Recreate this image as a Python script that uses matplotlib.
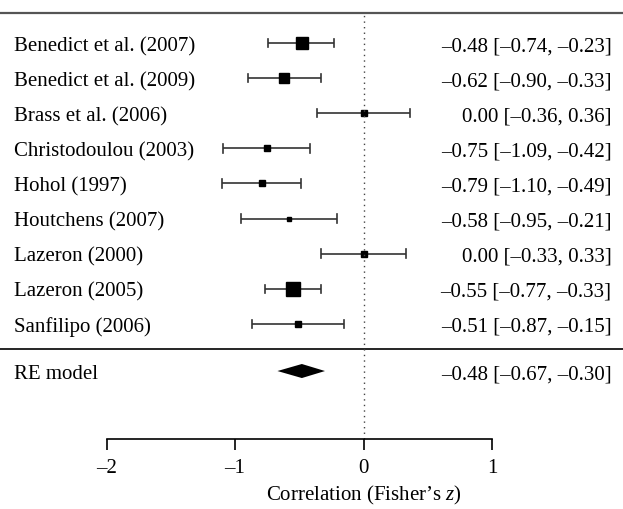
import numpy as np
import matplotlib
matplotlib.use("Agg")
from matplotlib import pyplot as plt

### data
studies = ["Benedict et al. (2007)", "Benedict et al. (2009)", "Brass et al. (2006)",
           "Christodoulou (2003)", "Hohol (1997)", "Houtchens (2007)",
           "Lazeron (2000)", "Lazeron (2005)", "Sanfilipo (2006)"]
estimate = [-0.48, -0.62, 0.00, -0.75, -0.79, -0.58, 0.00, -0.55, -0.51]
ci_low = [-0.74, -0.90, -0.36, -1.09, -1.10, -0.95, -0.33, -0.77, -0.87]
ci_high = [-0.23, -0.33, 0.36, -0.42, -0.49, -0.21, 0.33, -0.33, -0.15]
weights = [12.5, 10.5, 5.5, 5.5, 7.0, 4.5, 6.5, 14.5, 6.5]  # relative square sizes

re_label = "RE model"
re_est, re_low, re_high = -0.48, -0.67, -0.30
xticks = [-2, -1, 0, 1]
xlabel = "Correlation (Fisher\u2019s $z$)"

plt.rcParams["font.family"] = "Liberation Serif"
plt.rcParams["mathtext.fontset"] = "custom"
plt.rcParams["mathtext.it"] = "Liberation Serif:italic"
plt.rcParams["mathtext.rm"] = "Liberation Serif"

fs = 15

fig = plt.figure(figsize=(6.23, 5.10), dpi=100)
ax = fig.add_axes([0, 0, 1, 1])

k = len(studies)
rows = np.arange(k, 0, -1)
re_row = -0.345
top_line = 9.855
mid_line = 0.282
axis_row = -2.28

ax.set_xlim(-2.829, 2.019)
ax.set_ylim(-4.276, 10.254)

def fmt(v):
    return f"{v:.2f}".replace("-", "\u2013")

for i in range(k):
    y = rows[i]
    ax.plot([ci_low[i], ci_high[i]], [y, y], color="#333333", lw=1.2, solid_capstyle="butt")
    for xe in (ci_low[i], ci_high[i]):
        ax.plot([xe, xe], [y - 0.12, y + 0.12], color="#333333", lw=1.2)
    ax.plot(estimate[i], y, marker="s", ms=weights[i] * 0.7, color="black", mec="black")
    ax.text(-2.72, y, studies[i], ha="left", va="center_baseline", fontsize=fs)
    ax.text(1.93, y, f"{fmt(estimate[i])} [{fmt(ci_low[i])}, {fmt(ci_high[i])}]",
            ha="right", va="center_baseline", fontsize=fs)

### summary diamond
ax.fill([re_low, re_est, re_high, re_est], [re_row, re_row + 0.2, re_row, re_row - 0.2],
        color="black", lw=0)
ax.text(-2.72, re_row, re_label, ha="left", va="center_baseline", fontsize=fs)
ax.text(1.93, re_row, f"{fmt(re_est)} [{fmt(re_low)}, {fmt(re_high)}]",
        ha="right", va="center_baseline", fontsize=fs)

### separator lines and reference line
ax.axhline(top_line, color="#555555", lw=1.6)
ax.axhline(mid_line, color="black", lw=1.2)
ax.plot([0, 0], [axis_row, top_line], color="#444444", lw=1, ls=(0, (1, 3)))

### x axis
for s in ["top", "right", "left"]:
    ax.spines[s].set_visible(False)
ax.spines["bottom"].set_position(("data", axis_row))
ax.spines["bottom"].set_bounds(-2, 1)
ax.spines["bottom"].set_linewidth(1.2)
ax.set_xticks(xticks)
ax.set_xticklabels([str(t).replace("-", "\u2013") for t in xticks], fontsize=fs)
ax.tick_params(axis="x", direction="out", length=8, width=1.2, pad=6)
ax.set_yticks([])
ax.text(0, -3.85, xlabel, ha="center", va="center", fontsize=fs)

fig.savefig("out.png", dpi=100)
